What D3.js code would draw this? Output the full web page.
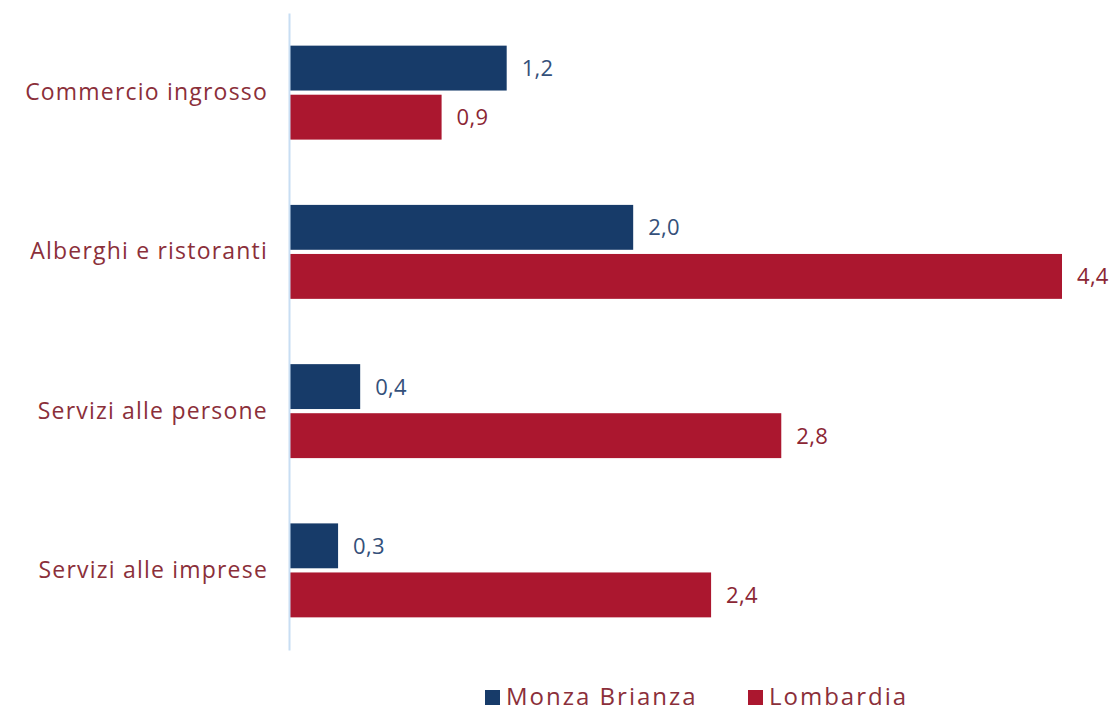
<!DOCTYPE html>
<html>
<head>
<meta charset="utf-8">
<script src="https://cdn.jsdelivr.net/npm/d3@7"></script>
<style>
  body { margin: 0; background: #fff; }
  text { font-family: "Open Sans", "DejaVu Sans", sans-serif; }
</style>
</head>
<body>
<div id="chart" style="width:1117px;height:712px;"></div>
<script>
const categories = ["Commercio ingrosso", "Alberghi e ristoranti", "Servizi alle persone", "Servizi alle imprese"];
const seriesNames = ["Monza Brianza", "Lombardia"];
const monza = [1.235, 1.956, 0.40, 0.274];
const lombardia = [0.864, 4.40, 2.80, 2.40];

const colors = ["#173b69", "#ab172f"];
const labelColors = ["#34507a", "#8b2634"];
const textColor = "#8b2f3a";

const parent = document.getElementById("chart"),
      svg = d3.select(parent).append("svg"),
      svgWidth = parent.clientWidth,
      svgHeight = parent.clientHeight;

svg.attr("width", svgWidth).attr("height", svgHeight);

const margin = {top: 13, right: 55, bottom: 62, left: 290},
      width = svgWidth - margin.left - margin.right,
      height = svgHeight - margin.top - margin.bottom;

const g = svg.append("g")
    .attr("transform", "translate(" + margin.left + "," + margin.top + ")");

const data = categories.map((c, i) => ({cat: c, values: [monza[i], lombardia[i]]}));

// X scale (no visible axis)
const x = d3.scaleLinear()
    .domain([0, 4.4])
    .range([0, 772]);

// Y bands per category
const y = d3.scaleBand()
    .domain(categories)
    .range([0, height])
    .paddingInner(0.41)
    .paddingOuter(0.205);

const y1 = d3.scaleBand()
    .domain(seriesNames)
    .range([0, y.bandwidth()])
    .paddingInner(0.085);

const fmt = v => d3.format(".1f")(v).replace(".", ",");

const groups = g.append("g")
    .selectAll("g")
    .data(data)
    .join("g")
        .attr("transform", d => "translate(0," + y(d.cat) + ")");

groups.selectAll("rect")
    .data(d => d.values.map((v, i) => ({key: seriesNames[i], v: v, i: i})))
    .join("rect")
        .attr("x", 0)
        .attr("y", d => y1(d.key))
        .attr("width", d => x(d.v))
        .attr("height", y1.bandwidth())
        .attr("fill", d => colors[d.i]);

groups.selectAll("text.val")
    .data(d => d.values.map((v, i) => ({key: seriesNames[i], v: v, i: i})))
    .join("text")
        .attr("class", "val")
        .attr("x", d => x(d.v) + 15)
        .attr("y", d => y1(d.key) + y1.bandwidth() / 2)
        .attr("dy", "0.36em")
        .attr("font-size", 22)
        .attr("letter-spacing", 0.3)
        .attr("fill", d => labelColors[d.i])
        .text(d => fmt(d.v));

// Y axis
const yAxis = g.append("g")
    .call(d3.axisLeft(y).tickSize(0).tickPadding(22));
yAxis.select(".domain")
    .attr("stroke", "#c8def3")
    .attr("stroke-width", 2)
    .attr("transform", "translate(-1,0)");
yAxis.selectAll(".tick text")
    .attr("font-size", 23)
    .attr("letter-spacing", 1.2)
    .attr("font-family", "\"Open Sans\", sans-serif")
    .attr("fill", textColor);

// Legend
const legendX = [485, 748];
const legend = svg.append("g")
    .selectAll("g")
    .data(seriesNames)
    .join("g")
        .attr("transform", (d, i) => "translate(" + legendX[i] + ",690)");
legend.append("rect")
    .attr("width", 15)
    .attr("height", 15)
    .attr("fill", (d, i) => colors[i]);
legend.append("text")
    .attr("x", 21)
    .attr("y", 15)
    .attr("font-size", 24)
    .attr("letter-spacing", 2)
    .attr("fill", textColor)
    .text(d => d);
</script>
</body>
</html>
